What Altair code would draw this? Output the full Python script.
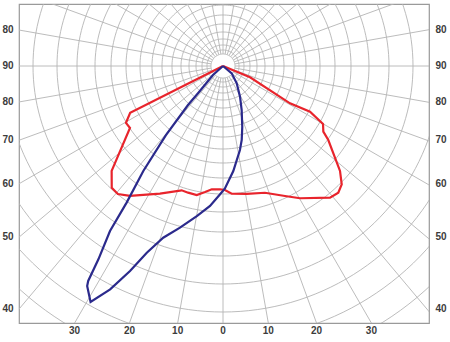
import altair as alt
import numpy as np
import pandas as pd

# ---- grid definition (angles measured from nadir, positive to the right) ----
spoke_angles = list(range(0, 360, 10))
ring_radii = [12, 16, 21, 27, 34, 42, 51, 61, 71, 83, 97, 112, 128, 146, 166,
              190, 218, 246, 274, 302, 330]
inner_radius = 12
outer_radius = 420

side_label_angles = [100, 90, 80, 70, 60, 50, 40]
side_label_texts = ["80", "90", "80", "70", "60", "50", "40"]
bottom_label_angles = [-30, -20, -10, 0, 10, 20, 30]
bottom_label_texts = ["30", "20", "10", "0", "10", "20", "30"]

# ---- curves: (angle from nadir in degrees, intensity value) ----
red_angle = [-63, -63.2, -59.6, -56.3, -46.7, -42.4, -39.4, -35.6, -26.3, -18.4,
             -15.4, -11.5, -8.1, -5.2, -1.4, 0.9, 3.9, 10.5, 18.3, 25.5, 30.2,
             39.1, 42.3, 45.1, 48.1, 54.9, 56.8, 59.9, 62.3, 60.9, 67.3, 67]
red_value = [0, 104, 112.5, 111.8, 153, 165, 165.6, 159.8, 142.4, 131,
             131.4, 131.7, 127.3, 123.8, 123.3, 124, 128, 130, 133.5, 144, 153,
             169.7, 171.3, 167.6, 157.2, 128.7, 119.9, 115.6, 98.3, 76.7, 29.3, 0]

blue_angle = [-50, -48, -42.5, -41.9, -39.5, -37.2, -35.2, -34.4, -32.8, -32.1,
              -31.7, -29.3, -26.8, -24.4, -22.2, -19.2, -14.9, -9.9, -5.3, -1.3,
              0.9, 5.6, 11.4, 14.2, 17.6, 23, 29, 38.4, 50, 60]
blue_value = [0, 13.5, 37, 52.4, 90, 131.8, 167.2, 200, 230, 253.7,
              258.5, 270.6, 250.3, 225.1, 201.7, 181.8, 167.3, 152.3, 140.6, 128.3,
              122.5, 105.5, 85.7, 76.3, 63.7, 47.8, 35.1, 22.1, 11.4, 0]

# ---- build tables ----
def to_xy(angle_deg, r):
    a = np.radians(np.asarray(angle_deg, dtype=float))
    r = np.asarray(r, dtype=float)
    return r * np.sin(a), -r * np.cos(a)

rows = []
t = np.arange(0, 361, 2)
for rr in ring_radii:
    xs, ys = to_xy(t, np.full(len(t), rr))
    for i, (x, y) in enumerate(zip(xs, ys)):
        rows.append({"ring": rr, "i": i, "x": x, "y": y})
rings = pd.DataFrame(rows)

x1, y1 = to_xy(spoke_angles, [inner_radius] * len(spoke_angles))
x2, y2 = to_xy(spoke_angles, [outer_radius] * len(spoke_angles))
spokes = pd.DataFrame({"x": x1, "y": y1, "x2": x2, "y2": y2})

curves = []
for name, ang, val in [("red", red_angle, red_value), ("blue", blue_angle, blue_value)]:
    xs, ys = to_xy(ang, val)
    for i, (x, y) in enumerate(zip(xs, ys)):
        curves.append({"series": name, "i": i, "x": x, "y": y})
curves = pd.DataFrame(curves)

X_MIN, X_MAX = -204, 206
Y_MIN, Y_MAX = -257, 62

# side labels at the point where each spoke leaves the frame
side_y = [-(abs(X_MIN) / np.tan(np.radians(a))) if a != 90 else 0.0 for a in side_label_angles]
left_labels = pd.DataFrame({"x": [X_MIN - 11] * len(side_y), "y": side_y, "t": side_label_texts})
right_labels = pd.DataFrame({"x": [X_MAX + 12] * len(side_y), "y": side_y, "t": side_label_texts})
bx = [abs(Y_MIN) * np.tan(np.radians(a)) for a in bottom_label_angles]
bottom_labels = pd.DataFrame({"x": bx, "y": [Y_MIN - 8] * len(bx), "t": bottom_label_texts})
labels = pd.concat([left_labels, right_labels, bottom_labels], ignore_index=True)

xs = alt.Scale(domain=[X_MIN, X_MAX], nice=False, zero=False)
ys = alt.Scale(domain=[Y_MIN, Y_MAX], nice=False, zero=False)
grid_col = "#b4b4b4"

ring_layer = alt.Chart(rings).mark_line(clip=True, color=grid_col, strokeWidth=0.9).encode(
    x=alt.X("x:Q", scale=xs, axis=None),
    y=alt.Y("y:Q", scale=ys, axis=None),
    detail="ring:N",
    order="i:Q",
)
spoke_layer = alt.Chart(spokes).mark_rule(clip=True, color=grid_col, strokeWidth=0.9).encode(
    x=alt.X("x:Q", scale=xs, axis=None),
    y=alt.Y("y:Q", scale=ys, axis=None),
    x2="x2:Q",
    y2="y2:Q",
)
curve_layer = alt.Chart(curves).mark_line(clip=True, strokeWidth=2.2).encode(
    x=alt.X("x:Q", scale=xs, axis=None),
    y=alt.Y("y:Q", scale=ys, axis=None),
    color=alt.Color("series:N", scale=alt.Scale(domain=["red", "blue"],
                                                range=["#e8242c", "#2b2a8c"]), legend=None),
    order="i:Q",
)
label_layer = alt.Chart(labels).mark_text(
    font="Liberation Sans", fontSize=10, fontWeight="bold", color="#3c3c3c",
    align="center", baseline="middle", clip=False,
).encode(
    x=alt.X("x:Q", scale=xs, axis=None),
    y=alt.Y("y:Q", scale=ys, axis=None),
    text="t:N",
)

chart = alt.layer(ring_layer, spoke_layer, curve_layer, label_layer).properties(
    width=410, height=319,
    autosize=alt.AutoSizeParams(type="none"),
    padding={"left": 19, "top": 4, "right": 21, "bottom": 19},
    background="white",
).configure_view(stroke="#9a9a9a", strokeWidth=1.2)

chart.save("out.html", embed_options={"renderer": "svg", "actions": False})
